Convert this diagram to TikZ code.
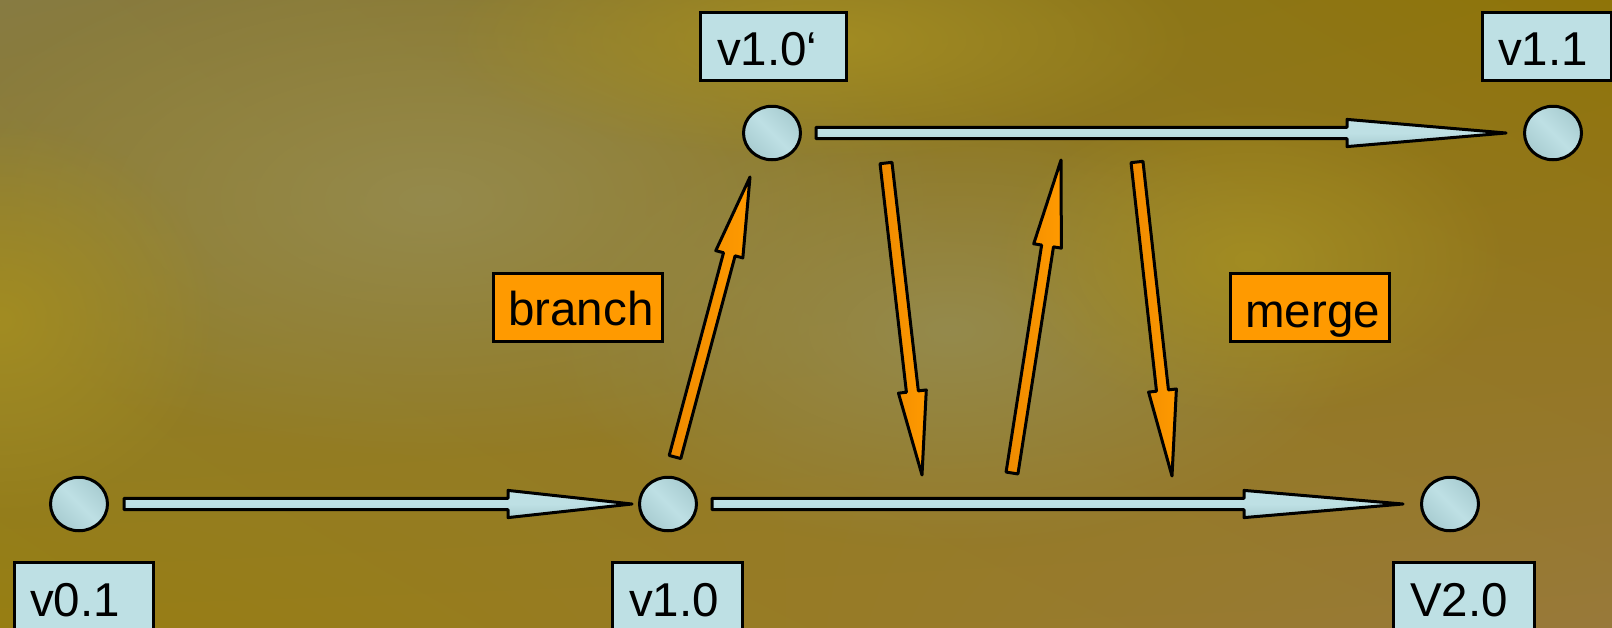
\documentclass[tikz,border=0pt]{standalone}
\usepackage{fontspec}
\setmainfont{Liberation Sans}
\usetikzlibrary{calc,fadings,shadings,shapes.geometric}
\definecolor{lblue}{HTML}{BEE0E4}
\definecolor{lbdark}{HTML}{A8CCD1}
\definecolor{orng}{HTML}{FF9A00}
\definecolor{orngdark}{HTML}{EE8A00}
\definecolor{bgUL}{HTML}{877B42}
\definecolor{bgUR}{HTML}{8F7408}
\definecolor{bgLL}{HTML}{977E12}
\definecolor{bgLR}{HTML}{98793A}
\definecolor{bgolive}{HTML}{958A4C}
\definecolor{bggold}{HTML}{A28C22}
\tikzfading[name=softblob, inner color=transparent!0, outer color=transparent!100]
% #1 style, #2 tail, #3 tip, #4 shaft half width, #5 head half width, #6 head length
\newcommand\blockarr[6]{%
  \path ($(#3)!#6!(#2)$) coordinate (babase);
  \path[#1] ($(#2)!#4!90:(#3)$) -- ($(babase)!#4!-90:(#2)$) -- ($(babase)!#5!-90:(#2)$)
    -- (#3) -- ($(babase)!#5!90:(#2)$) -- ($(babase)!#4!90:(#2)$) -- ($(#2)!#4!-90:(#3)$) -- cycle;
}
\tikzset{
  vcirc/.style={ellipse, draw=black, line width=3pt, minimum width=57pt, minimum height=53.5pt, inner sep=0pt,
    top color=lbdark, bottom color=lbdark, middle color=lblue, shading angle=-45},
  vbox/.style={rectangle, draw=black, line width=3pt, fill=lblue, inner sep=0pt, minimum height=68pt, anchor=north west},
  obox/.style={rectangle, draw=black, line width=3pt, fill=orng, inner sep=0pt, minimum height=68pt, anchor=north west},
  lbltxt/.style={inner sep=0pt, anchor=base west, font=\fontsize{47.5}{57}\selectfont, text=black},
  barrow/.style={draw=black, line width=3pt, line join=round, top color=lblue, bottom color=lbdark, middle color=lblue},
  oarrow/.style={draw=black, line width=3pt, line join=round, left color=orngdark, right color=orng},
}
\begin{document}
\begin{tikzpicture}[x=1pt,y=-1pt]
\useasboundingbox (0,0) rectangle (1612,627);
% background
\shade[upper left=bgUL, upper right=bgUR, lower left=bgLL, lower right=bgLR] (0,0) rectangle (1612,627);
\fill[bgolive, path fading=softblob] (430,200) ellipse (520 and 260);
\fill[bgolive, path fading=softblob] (950,330) ellipse (420 and 220);
\fill[bggold, path fading=softblob] (820,40) ellipse (380 and 120);
\fill[bggold, path fading=softblob] (0,320) ellipse (220 and 200);
\fill[bggold, path fading=softblob] (1250,260) ellipse (260 and 160);

% circles
\node[vcirc] (c01) at (79,504) {};
\node[vcirc] (c10) at (668,504) {};
\node[vcirc] (c20) at (1450,504) {};
\node[vcirc] (c10p) at (772,133) {};
\node[vcirc] (c11) at (1553,133) {};

% label boxes
\node[vbox, minimum width=139pt] (b01) at (12.5,560.5) {};
\node[vbox, minimum width=130pt] (b10) at (610.5,560.5) {};
\node[vbox, minimum width=141pt] (b20) at (1391.5,560.5) {};
\node[vbox, minimum width=146pt] (b10p) at (698.5,10.5) {};
\node[vbox, minimum width=129pt] (b11) at (1480.5,10.5) {};
\node[obox, minimum width=169pt] (bbr) at (491.5,271.5) {};
\node[obox, minimum width=159pt] (bmg) at (1228.5,271.5) {};

\node[lbltxt] (t01) at (30,616) {v0.1};
\node[lbltxt] (t10) at (629,616) {v1.0};
\node[lbltxt] (t20) at (1410,616) {V2.0};
\node[lbltxt] (t10p) at (717,65) {v1.0‘};
\node[lbltxt] (t11) at (1498,65) {v1.1};
\node[lbltxt] (tbr) at (508,325) {branch};
\node[lbltxt] (tmg) at (1245,327) {merge};

% blue arrows
\coordinate (a1s) at ($(c01.east)+(15,0)$);
\coordinate (a1t) at ($(c10.west)+(-6,0)$);
\coordinate (a2s) at ($(c10p.east)+(14,0)$);
\coordinate (a2t) at ($(c11.west)+(-17,0)$);
\coordinate (a3s) at ($(c10.east)+(14,0)$);
\coordinate (a3t) at ($(c20.west)+(-17,0)$);
\blockarr{barrow}{a1s}{a1t}{5.6pt}{13.6pt}{124pt}
\blockarr{barrow}{a2s}{a2t}{5.6pt}{13.6pt}{159pt}
\blockarr{barrow}{a3s}{a3t}{5.6pt}{13.6pt}{159pt}

% orange arrows
\coordinate (o1s) at (675,457);
\coordinate (o1t) at (750,177);
\coordinate (o2s) at (886,163);
\coordinate (o2t) at (922,475);
\coordinate (o3s) at (1012,473);
\coordinate (o3t) at (1061,160);
\coordinate (o4s) at (1137,162);
\coordinate (o4t) at (1172,476);
\blockarr{oarrow}{o1s}{o1t}{6pt}{14pt}{80pt}
\blockarr{oarrow}{o2s}{o2t}{6pt}{14pt}{84pt}
\blockarr{oarrow}{o3s}{o3t}{6pt}{14pt}{87pt}
\blockarr{oarrow}{o4s}{o4t}{6pt}{14pt}{86pt}
\end{tikzpicture}
\end{document}
